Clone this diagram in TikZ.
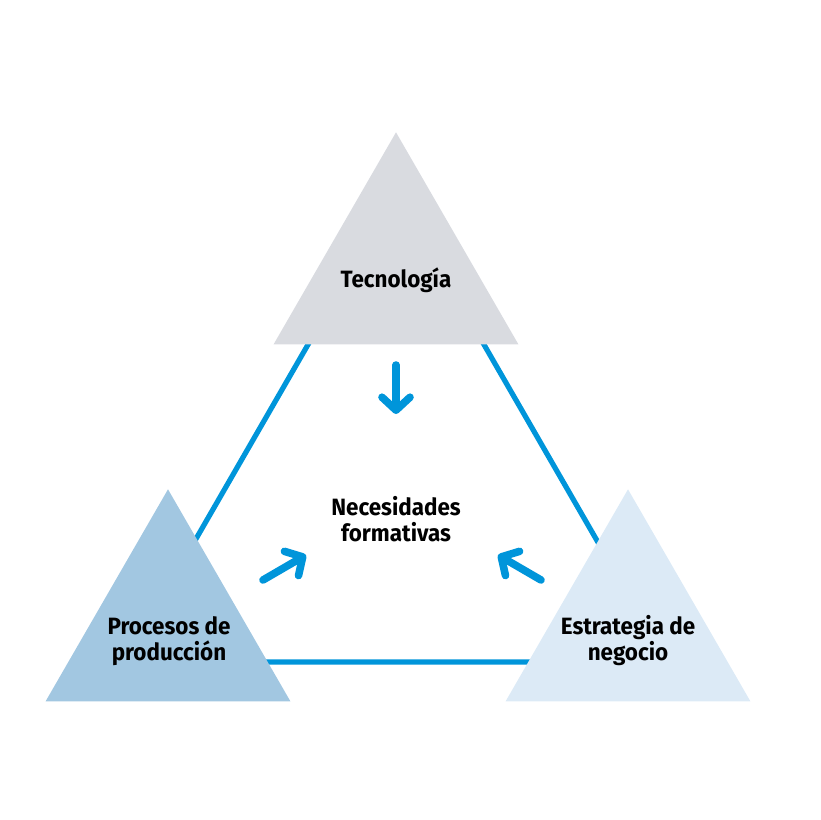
\documentclass[tikz,border=0pt]{standalone}
\usepackage{fontspec}
\setmainfont{Fira Sans}[FakeStretch=0.95]
\usetikzlibrary{arrows.meta,shapes.geometric}
\definecolor{lineblue}{HTML}{0095DA}
\definecolor{techgray}{HTML}{D9DBE0}
\definecolor{procblue}{HTML}{A2C7E1}
\definecolor{stratblue}{HTML}{DCEAF6}

\tikzset{
  tri/.style={regular polygon, regular polygon sides=3, minimum size=141.4pt,
    inner sep=0pt, outer sep=0pt, draw=none},
  lbl/.style={font=\bfseries\fontsize{11.8}{13}\selectfont, align=center, inner sep=0pt},
  flow/.style={->, lineblue, line width=3.8pt, line cap=round}
}

\begin{document}
\begin{tikzpicture}[x=0.5pt, y=-0.5pt, >={Straight Barb[round, length=6.5pt, width=14pt]}]
  \useasboundingbox (0,0) rectangle (820,820);
  % outer frame behind the triangles
  \coordinate (T) at (396,192);
  \coordinate (L) at (125,662);
  \coordinate (R) at (667,662);
  \draw[lineblue, line width=2.6pt] (T) -- (L) -- (R) -- cycle;
  % the three triangles
  \node[tri, fill=techgray] (tec) at (396,273.7) {};
  \node[tri, fill=procblue] (proc) at (168,630.7) {};
  \node[tri, fill=stratblue] (strat) at (628,630.7) {};
  \node[lbl] (tecT) at (396,280) {Tecnología};
  \node[lbl] (procT) at (169,641) {Procesos de\\producción};
  \node[lbl] (stratT) at (628,641) {Estrategia de\\negocio};
  \node[lbl] (need) at (396,519) {Necesidades\\formativas};
  % arrows towards the centre
  \coordinate (a1) at (396,365);
  \coordinate (b1) at (396,414);
  \coordinate (a2) at (263,580);
  \coordinate (b2) at (306,555);
  \coordinate (a3) at (541,580);
  \coordinate (b3) at (498,555);
  \draw[flow] (a1) -- (b1);
  \draw[flow] (a2) -- (b2);
  \draw[flow] (a3) -- (b3);
\end{tikzpicture}
\end{document}
